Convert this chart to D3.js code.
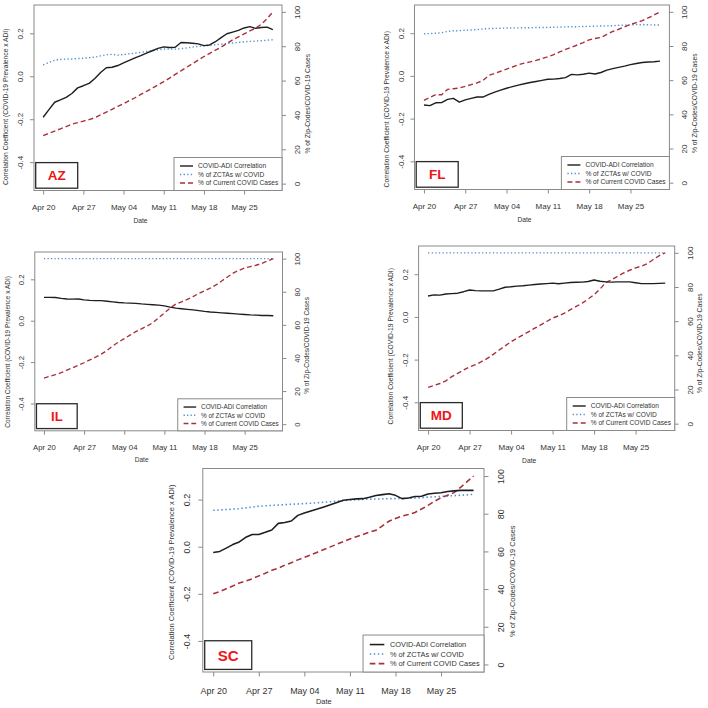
<!DOCTYPE html>
<html><head><meta charset="utf-8">
<script src="https://cdn.jsdelivr.net/npm/d3@7"></script>
<style>body{margin:0;background:#fff}svg{display:block;font-family:"Liberation Sans",Arial,sans-serif}</style>
</head><body><svg id="c" width="708" height="708"></svg>
<script>
const dates = ["2020-04-20","2020-04-21","2020-04-22","2020-04-23","2020-04-24","2020-04-25","2020-04-26","2020-04-27","2020-04-28","2020-04-29","2020-04-30",
"2020-05-01","2020-05-02","2020-05-03","2020-05-04","2020-05-05","2020-05-06","2020-05-07","2020-05-08","2020-05-09","2020-05-10",
"2020-05-11","2020-05-12","2020-05-13","2020-05-14","2020-05-15","2020-05-16","2020-05-17","2020-05-18","2020-05-19","2020-05-20",
"2020-05-21","2020-05-22","2020-05-23","2020-05-24","2020-05-25","2020-05-26","2020-05-27","2020-05-28","2020-05-29","2020-05-30"];
const xTickDates = ["2020-04-20","2020-04-27","2020-05-04","2020-05-11","2020-05-18","2020-05-25"];
const xTickLabels = ["Apr 20","Apr 27","May 04","May 11","May 18","May 25"];
const leftTicks = [-0.4,-0.2,0.0,0.2];
const leftTickLabels = ["-0.4","-0.2","0.0","0.2"];
const rightTicks = [0,20,40,60,80,100];
const leftLimits = [-0.5,0.3];
const rightLimits = [0,100];
const states = ["AZ","FL","IL","MD","SC"];
const legendLabels = ["COVID-ADI Correlation","% of ZCTAs w/ COVID","% of Current COVID Cases"];
const xTitle = "Date";
const leftTitle = "Correlation Coefficient (COVID-19 Prevalence x ADI)";
const rightTitle = "% of Zip-Codes/COVID-19 Cases";

const azCorr = [-0.191,-0.155,-0.121,-0.110,-0.098,-0.080,-0.054,-0.044,-0.033,-0.010,0.018,0.040,0.042,0.050,0.062,0.074,0.086,0.096,0.108,0.119,0.130,0.137,0.134,0.135,0.157,0.156,0.154,0.151,0.143,0.146,0.161,0.180,0.198,0.206,0.214,0.225,0.231,0.223,0.227,0.229,0.217];
const azZcta = [69.2,70.5,71.8,72.3,72.5,72.6,72.8,73.0,73.3,73.6,74.4,75.0,75.3,74.8,75.2,75.6,76.0,76.4,76.9,77.4,77.9,78.4,78.4,78.3,78.5,79.0,79.5,79.9,80.2,80.5,80.9,81.2,81.6,81.9,82.2,82.6,82.8,83.0,83.2,83.5,83.8];
const azCases = [28.0,29.3,30.6,31.9,33.2,34.6,35.5,36.4,37.3,38.4,40.0,41.6,43.3,45.0,46.6,48.3,50.0,51.9,53.7,55.6,57.5,59.4,61.4,63.6,65.7,67.8,69.8,71.9,74.0,75.8,77.7,79.5,81.6,83.7,85.4,87.2,88.9,90.5,92.8,96.0,100];

const flCorr = [-0.136,-0.139,-0.126,-0.125,-0.110,-0.105,-0.123,-0.112,-0.105,-0.099,-0.099,-0.087,-0.076,-0.067,-0.058,-0.050,-0.043,-0.037,-0.031,-0.026,-0.021,-0.016,-0.015,-0.012,-0.008,0.007,0.005,0.008,0.013,0.009,0.016,0.027,0.034,0.040,0.046,0.053,0.058,0.063,0.065,0.066,0.069];
const flZcta = [87.1,87.3,87.5,87.8,88.5,88.9,89.0,89.2,89.4,89.6,90.0,90.2,90.3,90.4,90.5,90.6,90.6,90.7,90.7,90.8,90.8,90.9,91.0,91.1,91.2,91.3,91.3,91.4,91.5,91.6,91.7,91.8,91.9,92.1,92.2,92.4,92.5,92.4,92.4,92.3,92.3];
const flCases = [48.2,49.9,51.5,51.5,54.6,55.0,55.4,56.4,57.4,58.4,59.8,62.8,64.0,65.2,66.5,67.7,69.0,70.0,70.7,71.6,72.6,73.7,75.0,76.5,78.0,79.2,80.6,82.0,83.6,84.4,85.0,86.8,88.5,89.8,91.2,92.6,93.7,94.8,96.4,98.1,100];

const ilCorr = [0.113,0.113,0.112,0.108,0.105,0.104,0.105,0.101,0.098,0.097,0.097,0.094,0.091,0.088,0.086,0.085,0.084,0.081,0.079,0.077,0.075,0.072,0.066,0.061,0.058,0.055,0.052,0.049,0.045,0.042,0.040,0.038,0.036,0.034,0.032,0.030,0.028,0.027,0.025,0.025,0.024];
const ilZcta = [100,100,100,100,100,100,100,100,100,100,100,100,100,100,100,100,100,100,100,100,100,100,100,100,100,100,100,100,100,100,100,100,100,100,100,100,100,100,100,100,100];
const ilCases = [27.8,28.9,29.9,31.1,32.6,34.1,35.6,37.1,38.8,40.5,42.3,44.6,47.3,49.6,51.7,53.8,55.9,57.6,59.3,61.3,64.3,67.2,70.1,72.6,73.9,75.4,77.1,78.9,80.5,82.2,84.1,86.5,88.9,91.3,92.9,94.4,95.2,96.0,97.1,98.6,100];

const mdCorr = [0.098,0.103,0.102,0.107,0.109,0.111,0.118,0.126,0.123,0.122,0.122,0.122,0.130,0.139,0.141,0.144,0.146,0.149,0.152,0.154,0.156,0.158,0.155,0.158,0.161,0.162,0.163,0.166,0.173,0.167,0.164,0.163,0.164,0.164,0.164,0.160,0.156,0.156,0.156,0.157,0.158];
const mdZcta = [100,100,100,100,100,100,100,100,100,100,100,100,100,100,100,100,100,100,100,100,100,100,100,100,100,100,100,100,100,100,100,100,100,100,100,100,100,100,100,100,100];
const mdCases = [21.2,22.4,23.5,25.1,27.5,29.4,31.4,33.3,34.5,36.3,38.2,40.6,43.1,45.5,48.0,50.0,52.0,53.9,55.9,57.8,59.8,61.8,63.1,64.7,66.7,68.6,70.6,72.9,75.5,78.8,82.7,84.3,86.3,88.2,89.8,91.2,92.2,93.7,96.1,98.4,100];

const scCorr = [-0.025,-0.020,-0.006,0.009,0.020,0.040,0.052,0.052,0.061,0.071,0.099,0.103,0.109,0.133,0.143,0.152,0.160,0.169,0.178,0.188,0.197,0.200,0.203,0.204,0.210,0.217,0.221,0.225,0.218,0.204,0.207,0.213,0.214,0.224,0.227,0.229,0.234,0.237,0.239,0.239,0.239];
const scZcta = [81.8,82.0,82.2,82.4,82.7,83.1,83.5,84.0,84.2,84.4,84.6,84.8,85.0,85.2,85.4,85.6,85.8,86.1,86.4,86.7,87.0,87.2,87.4,87.6,87.7,87.8,87.9,88.0,88.0,88.1,88.2,88.3,88.5,88.8,89.0,89.2,89.4,89.6,89.8,90.0,90.3];
const scCases = [37.5,38.6,40.2,41.6,43.2,44.3,45.5,47.0,48.4,50.0,51.1,52.7,54.0,55.5,56.8,58.2,59.6,61.0,62.4,63.8,65.2,66.6,67.8,69.0,70.2,71.2,73.6,76.0,77.5,78.8,79.6,80.7,82.5,84.4,86.6,88.5,89.8,91.2,94.0,97.0,100];

const seriesByState = {
  AZ:[azCorr,azZcta,azCases], FL:[flCorr,flZcta,flCases], IL:[ilCorr,ilZcta,ilCases],
  MD:[mdCorr,mdZcta,mdCases], SC:[scCorr,scZcta,scCases]
};

// layout (positions only)
const layout = {
  AZ:{L:34,R:282,T:5,B:190.5,s:1,lt:9,rt:6},
  FL:{L:414.5,R:669.4,T:5,B:189.5,s:1,lt:12,rt:6},
  IL:{L:34.8,R:282.5,T:252,B:430.8,s:0.97,lt:10.5,rt:4},
  MD:{L:418.6,R:674.7,T:246,B:430.5,s:1,lt:8,rt:5},
  SC:{L:202.8,R:484,T:468.5,B:672,s:1.12,lt:2,rt:11}
};
const COL_BLACK="#1e1e1e", COL_BLUE="#4f8fd2", COL_RED="#a8303a", COL_AXIS="#8a8a8a", COL_TEXT="#333";

const parse = d3.timeParse("%Y-%m-%d");
const dateObjs = dates.map(parse);
const svg = d3.select("#c");

function pad(ext){const r=ext[1]-ext[0];return [ext[0]-0.04*r, ext[1]+0.04*r];}

states.forEach(st=>{
  const p = layout[st], s = p.s;
  const [corr,zcta,cases] = seriesByState[st];
  const t0=dateObjs[0], t1=dateObjs[dateObjs.length-1], sp=(t1-t0)*0.04;
  const x = d3.scaleTime().domain([new Date(+t0-sp), new Date(+t1+sp)]).range([p.L,p.R]);
  const yL = d3.scaleLinear().domain(pad(leftLimits)).range([p.B,p.T]);
  const yR = d3.scaleLinear().domain(pad(rightLimits)).range([p.B,p.T]);
  const g = svg.append("g");

  const lineL = d3.line().x((d,i)=>x(dateObjs[i])).y(d=>yL(d));
  const lineR = d3.line().x((d,i)=>x(dateObjs[i])).y(d=>yR(d));
  g.append("path").attr("d",lineR(zcta)).attr("fill","none").attr("stroke",COL_BLUE).attr("stroke-width",1.4*s).attr("stroke-dasharray",`${1.3*s},${2.3*s}`);
  g.append("path").attr("d",lineR(cases)).attr("fill","none").attr("stroke",COL_RED).attr("stroke-width",1.4*s).attr("stroke-dasharray",`${5*s},${3*s}`);
  g.append("path").attr("d",lineL(corr)).attr("fill","none").attr("stroke",COL_BLACK).attr("stroke-width",1.4*s).attr("stroke-linejoin","round");

  g.append("rect").attr("x",p.L).attr("y",p.T).attr("width",p.R-p.L).attr("height",p.B-p.T).attr("fill","none").attr("stroke",COL_AXIS).attr("stroke-width",1);

  const gx = g.append("g").attr("transform",`translate(0,${p.B})`)
    .call(d3.axisBottom(x).tickValues(xTickDates.map(parse)).tickSize(4*s).tickSizeOuter(0).tickFormat((d,i)=>xTickLabels[i]));
  gx.select(".domain").remove();
  gx.selectAll("line").attr("stroke",COL_AXIS);
  gx.selectAll("text").attr("y",16.5*s).attr("dy","0.35em").attr("fill",COL_TEXT).attr("font-size",8*s).attr("font-family","Liberation Sans, Arial, sans-serif");

  const gl = g.append("g").attr("transform",`translate(${p.L},0)`)
    .call(d3.axisLeft(yL).tickValues(leftTicks).tickSize(4*s).tickSizeOuter(0).tickFormat((d,i)=>leftTickLabels[i]));
  gl.select(".domain").remove();
  gl.selectAll("line").attr("stroke",COL_AXIS);
  gl.selectAll("text").attr("x",null).attr("dy",null).attr("text-anchor","middle")
    .attr("transform",`translate(${-11*s},0) rotate(-90)`).attr("fill",COL_TEXT).attr("font-size",8*s).attr("font-family","Liberation Sans, Arial, sans-serif");

  const gr = g.append("g").attr("transform",`translate(${p.R},0)`)
    .call(d3.axisRight(yR).tickValues(rightTicks).tickSize(4*s).tickSizeOuter(0).tickFormat(d3.format("d")));
  gr.select(".domain").remove();
  gr.selectAll("line").attr("stroke",COL_AXIS);
  gr.selectAll("text").attr("x",null).attr("dy",null).attr("text-anchor","middle")
    .attr("transform",`translate(${18*s},0) rotate(-90)`).attr("fill",COL_TEXT).attr("font-size",8*s).attr("font-family","Liberation Sans, Arial, sans-serif");

  g.append("text").attr("x",(p.L+p.R)/2-17.5*s).attr("y",Math.min(p.B+32*s,703.5)).attr("text-anchor","middle")
    .attr("font-size",6.7*s).attr("fill",COL_TEXT).text(xTitle);
  const lcy=(p.T+p.B)/2+p.lt;
  g.append("text").attr("transform",`translate(${p.L-26*s},${lcy}) rotate(-90)`).attr("text-anchor","middle")
    .attr("font-size",6.7*s).attr("fill",COL_TEXT).text(leftTitle);
  const rcy=(p.T+p.B)/2+p.rt;
  g.append("text").attr("transform",`translate(${p.R+27.5*s},${rcy}) rotate(-90)`).attr("text-anchor","middle")
    .attr("font-size",6.7*s).attr("fill",COL_TEXT).text(rightTitle);

  const lw=108*s, lh=33*s, lx=p.R-lw, ly=p.B-lh;
  g.append("rect").attr("x",lx).attr("y",ly).attr("width",lw).attr("height",lh).attr("fill","#fff").attr("stroke",COL_AXIS).attr("stroke-width",1);
  const styles=[{c:COL_BLACK,d:null},{c:COL_BLUE,d:`${1.3*s},${2.3*s}`},{c:COL_RED,d:`${5*s},${3*s}`}];
  legendLabels.forEach((lab,i)=>{
    const yy = ly + (8.5 + 8.5*i)*s;
    g.append("line").attr("x1",lx+6*s).attr("x2",lx+19*s).attr("y1",yy).attr("y2",yy)
      .attr("stroke",styles[i].c).attr("stroke-width",1.4*s).attr("stroke-dasharray",styles[i].d);
    g.append("text").attr("x",lx+24*s).attr("y",yy).attr("dy","0.35em").attr("font-size",6.6*s).attr("fill",COL_TEXT).text(lab);
  });

  const bx=p.L+1.7*s, bw=42*s, bh=25.6*s, by=p.B-2.3*s-bh;
  g.append("rect").attr("x",bx).attr("y",by).attr("width",bw).attr("height",bh).attr("fill","#fff").attr("stroke","#2a2a2a").attr("stroke-width",1.3);
  g.append("text").attr("x",bx+bw/2).attr("y",by+bh/2).attr("dy","0.36em").attr("text-anchor","middle")
    .attr("font-size",13.5*s).attr("font-weight","bold").attr("fill","#f01414").text(st);
});
</script></body></html>
